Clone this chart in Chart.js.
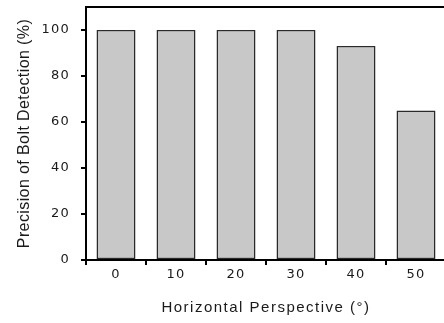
<!DOCTYPE html>
<html>
<head>
<meta charset="utf-8">
<script src="https://cdn.jsdelivr.net/npm/chart.js@4/dist/chart.umd.min.js"></script>
<style>
  html, body { margin: 0; padding: 0; background: #fff; overflow: hidden; }
  #wrap { width: 450px; height: 323px; }
</style>
</head>
<body>
<div id="wrap"><canvas id="precisionChart"></canvas></div>
<script>
// data
const angles = ['0', '10', '20', '30', '40', '50'];
const precision = [100, 100, 100, 100, 93, 65];
const yTicks = [0, 20, 40, 60, 80, 100];

// top frame line (right side of the frame falls outside the picture)
const topFrame = {
  id: 'topFrame',
  afterDraw(chart) {
    const { ctx, chartArea } = chart;
    ctx.save();
    ctx.strokeStyle = '#000';
    ctx.lineWidth = 2;
    ctx.beginPath();
    ctx.moveTo(chartArea.left - 1, chartArea.top);
    ctx.lineTo(chartArea.right + 10, chartArea.top);
    ctx.stroke();
    ctx.restore();
  }
};

// the original text is set a bit loose, so add letter spacing per scale
const spacing = { x: { labels: '1.2px', title: '1.5px' }, y: { labels: '1.2px', title: '0.4px' } };
const looseText = {
  id: 'looseText',
  afterLayout(chart) {
    Object.keys(spacing).forEach(id => {
      const s = chart.scales[id];
      if (!s || s._loose) return;
      s._loose = true;
      const drawLabels = s.drawLabels;
      const drawTitle = s.drawTitle;
      s.drawLabels = function (area) {
        this.ctx.save();
        this.ctx.letterSpacing = spacing[id].labels;
        drawLabels.call(this, area);
        this.ctx.restore();
      };
      s.drawTitle = function () {
        this.ctx.save();
        this.ctx.letterSpacing = spacing[id].title;
        drawTitle.call(this);
        this.ctx.restore();
      };
    });
  }
};

const ctx = document.getElementById('precisionChart').getContext('2d');
const precisionChart = new Chart(ctx, {
  type: 'bar',
  data: {
    labels: angles,
    datasets: [
      {
        label: 'Precision',
        data: precision,
        backgroundColor: '#c8c8c8',
        borderColor: '#2a2a2a',
        borderWidth: 1.5,
        borderSkipped: false,
        barPercentage: 0.65,
        categoryPercentage: 1,
      },
    ],
  },
  options: {
    responsive: true,
    maintainAspectRatio: false,
    animation: false,
    layout: { padding: { top: 7, right: 4, left: 0, bottom: 0 } },
    plugins: {
      legend: { display: false },
      tooltip: { enabled: false },
    },
    scales: {
      x: {
        grid: {
          drawOnChartArea: false,
          drawTicks: true,
          tickLength: 5,
          color: '#000',
          lineWidth: 2,
        },
        border: { color: '#000', width: 2 },
        ticks: {
          color: '#1a1a1a',
          padding: 2,
          font: { family: 'DejaVu Sans', size: 13 },
        },
        title: {
          display: true,
          text: 'Horizontal Perspective (°)',
          color: '#1a1a1a',
          padding: { top: 0, bottom: 6 },
          font: { family: 'Liberation Sans', size: 15 },
        },
        afterFit(scale) {
          scale.height = 63;
          scale.paddingLeft = 0;
          scale.paddingRight = 0;
        },
      },
      y: {
        min: 0,
        max: 110,
        grid: {
          drawOnChartArea: false,
          drawTicks: true,
          tickLength: 5,
          color: '#000',
          lineWidth: 2,
        },
        border: { color: '#000', width: 2 },
        afterBuildTicks(scale) {
          scale.ticks = yTicks.map(v => ({ value: v }));
        },
        ticks: {
          color: '#1a1a1a',
          padding: 11,
          font: { family: 'DejaVu Sans', size: 13 },
        },
        title: {
          display: true,
          text: 'Precision of Bolt Detection (%)',
          color: '#1a1a1a',
          padding: { top: 15, bottom: 0 },
          font: { family: 'Liberation Sans', size: 16 },
        },
        afterFit(scale) {
          scale.width = 86;
          scale.paddingTop = 0;
          scale.paddingBottom = 0;
        },
      },
    },
  },
  plugins: [topFrame, looseText],
});
</script>
</body>
</html>
